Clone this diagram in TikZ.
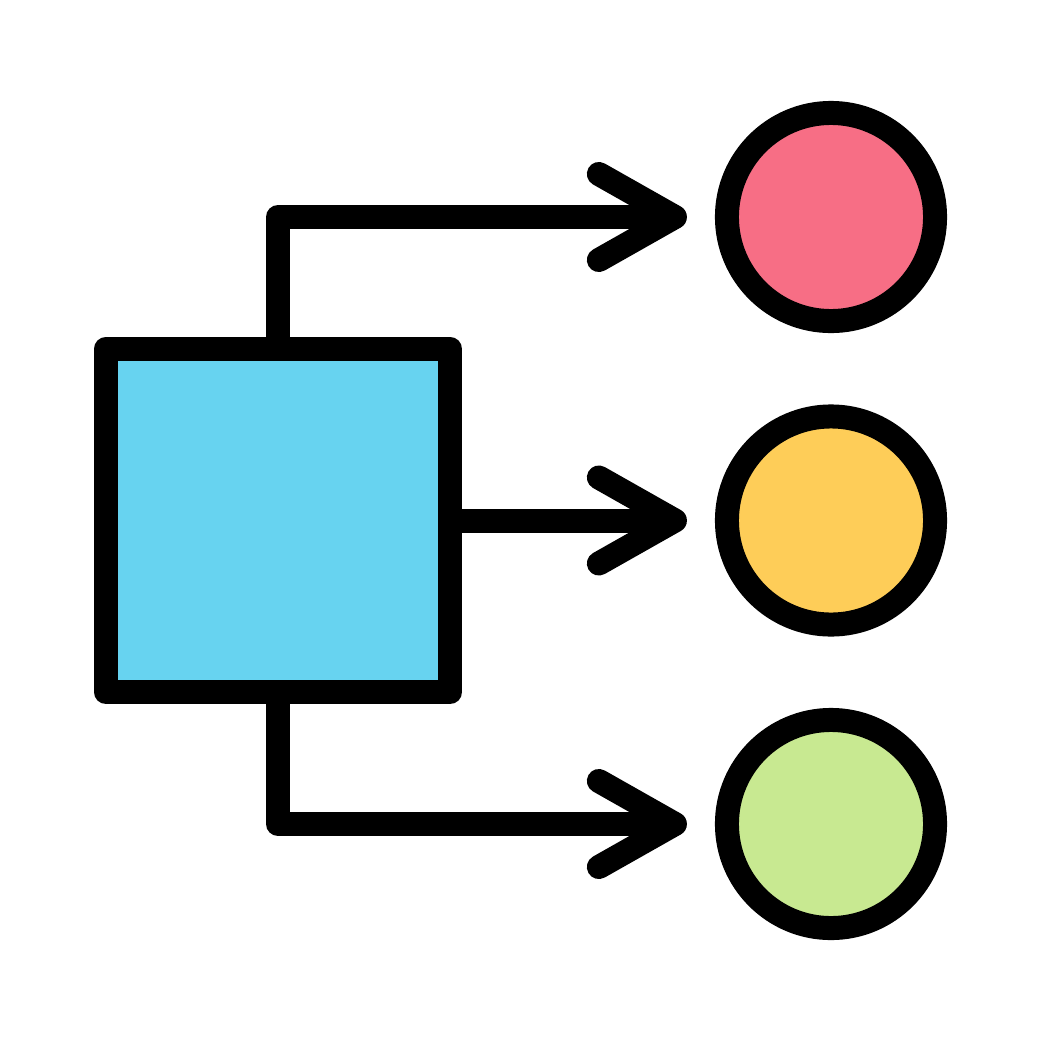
\documentclass[tikz,border=0pt]{standalone}
\usetikzlibrary{arrows.meta}
\definecolor{skyblue}{HTML}{67D3F0}
\definecolor{rosepink}{HTML}{F76E85}
\definecolor{sunyellow}{HTML}{FECD58}
\definecolor{limegreen}{HTML}{C8E991}
\begin{document}
\begin{tikzpicture}[
    x=0.01cm, y=-0.01cm,
    line width=0.24cm, line join=round,
    box/.style={draw=black, fill=skyblue,
        minimum width=3.44cm, minimum height=3.43cm, inner sep=0pt},
    dot/.style={circle, draw=black, minimum size=2.08cm, inner sep=0pt},
    flow/.style={line cap=round, shorten >=0.28cm,
        -{Straight Barb[length=0.76cm, width=0.86cm, round]}}
]
\useasboundingbox (0,0) rectangle (1042,1042);
% source block
\node[box] (src) at (278,520.5) {};
% targets
\node[dot, fill=rosepink] (top) at (831,217) {};
\node[dot, fill=sunyellow] (mid) at (831,520.5) {};
\node[dot, fill=limegreen] (bot) at (831,824) {};
% connectors
\draw[flow] (src.north) |- (top);
\draw[flow] (src.east) -- (mid);
\draw[flow] (src.south) |- (bot);
\end{tikzpicture}
\end{document}
